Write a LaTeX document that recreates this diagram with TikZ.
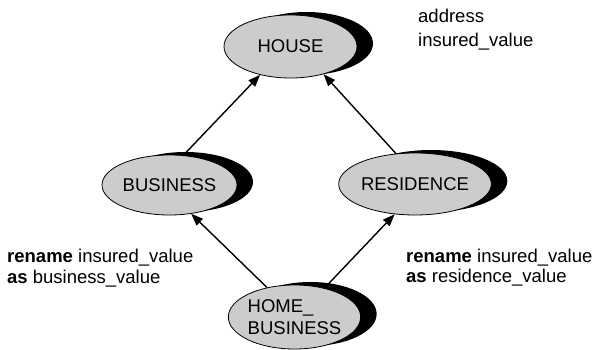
\documentclass[tikz,border=0pt]{standalone}
\usepackage{fontspec}
\setmainfont{Liberation Sans}
\usetikzlibrary{shapes.geometric,shadows,arrows.meta}
\begin{document}
\begin{tikzpicture}[x=1pt,y=-1pt,
  ent/.style={ellipse, draw=black, line width=0.8pt, fill=black!20, inner sep=0pt,
    font=\fontsize{18.5}{22}\selectfont,
    drop shadow={shadow xshift=16pt, shadow yshift=3pt, fill=black, opacity=1}},
  isa/.style={line width=1.4pt, -{Triangle[length=12pt,width=9pt]}},
  lbl/.style={anchor=base west, inner sep=0pt, font=\fontsize{18.5}{22}\selectfont}]
\useasboundingbox (0,0) rectangle (592,350);
\node[ent, minimum width=133pt, minimum height=63pt] (house) at (290.5,46.5) {HOUSE};
\node[ent, minimum width=135pt, minimum height=60pt] (bus) at (169.5,185) {BUSINESS};
\node[ent, minimum width=130pt, minimum height=62pt] (res) at (415,184) {RESIDENCE};
\node[ent, minimum width=125pt, minimum height=64pt, align=left] (hb) at (294.5,317) {HOME\_\\BUSINESS};
\draw[isa] (bus.65) -- (house.223);
\draw[isa] (res.122) -- (house.320);
\draw[isa] (hb.133) -- (bus.307);
\draw[isa] (hb.44) -- (res.236);
\node[lbl] (a1) at (418,23) {address};
\node[lbl] (a2) at (418,47) {insured\_value};
\node[lbl] (l1) at (7,262) {\textbf{rename} insured\_value};
\node[lbl] (l2) at (7,283) {\textbf{as} business\_value};
\node[lbl] (r1) at (406,262) {\textbf{rename} insured\_value};
\node[lbl] (r2) at (406,282) {\textbf{as} residence\_value};
\end{tikzpicture}
\end{document}
